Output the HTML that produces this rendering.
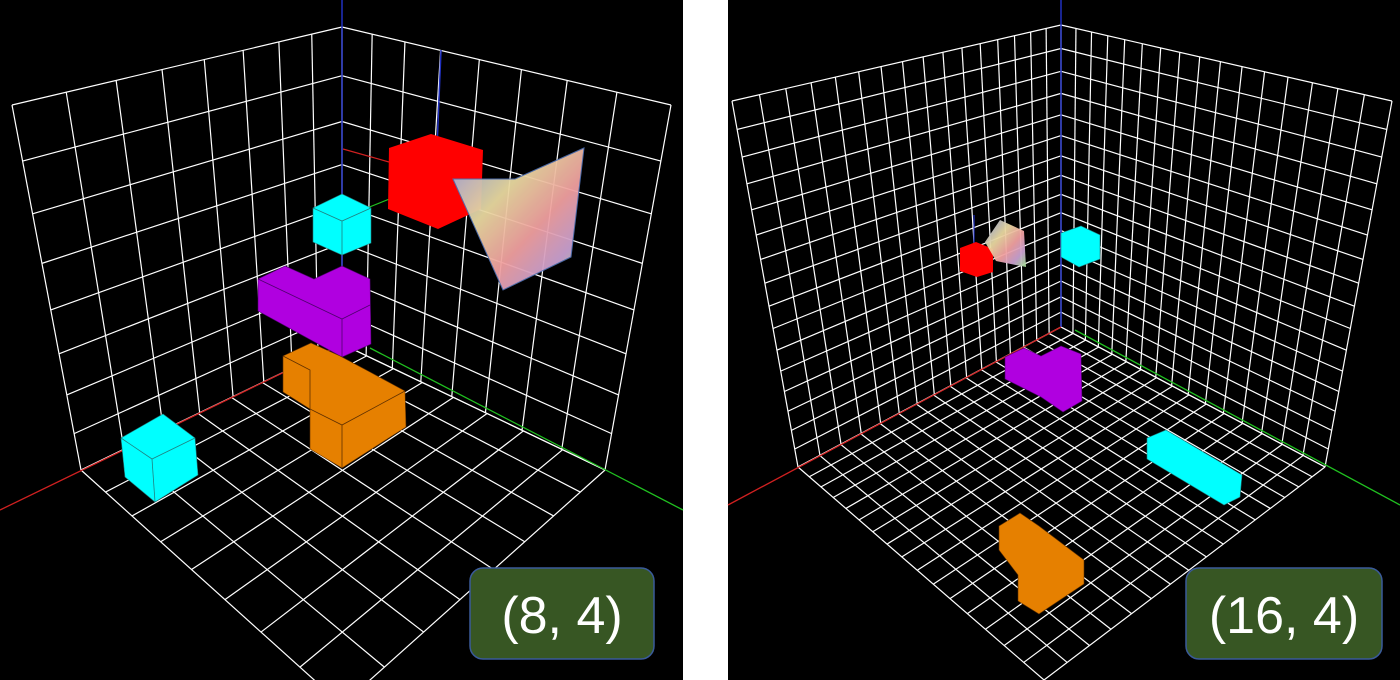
<!DOCTYPE html>
<html><head><meta charset="utf-8"><style>
html,body{margin:0;padding:0;background:#fff;width:1400px;height:680px;overflow:hidden}
svg{display:block}
</style></head><body>
<svg id="s" width="1400" height="680" xmlns="http://www.w3.org/2000/svg">
<defs>
<linearGradient id="pg" x1="0" y1="0" x2="1" y2="1">
<stop offset="0" stop-color="#8fa0e0"/><stop offset="0.35" stop-color="#e8d8a0"/><stop offset="0.6" stop-color="#f0a0a0"/><stop offset="0.8" stop-color="#c8a0d0"/><stop offset="1" stop-color="#a0e090"/>
</linearGradient>
</defs>
<rect x="0" y="0" width="683" height="680" fill="#000"/>
<rect x="728" y="0" width="672" height="680" fill="#000"/>
<g id="gl"></g>
<g id="gr"></g>
<g>
<line x1="342" y1="0" x2="342" y2="344" stroke="#2030c0" stroke-width="1.5"/>
<line x1="0" y1="510" x2="342" y2="344" stroke="#d02020" stroke-width="1.3"/>
<line x1="683" y1="510" x2="370" y2="348" stroke="#20c020" stroke-width="1.3"/>
<line x1="441" y1="50" x2="437" y2="148" stroke="#2030c0" stroke-width="1.5"/>
<line x1="343" y1="149" x2="389" y2="162" stroke="#d02020" stroke-width="1.2"/>
<line x1="342" y1="218" x2="412" y2="190" stroke="#20c020" stroke-width="1.2"/>
</g>
<g>
<line x1="1061" y1="0" x2="1061" y2="327" stroke="#2030c0" stroke-width="1.5"/>
<line x1="728" y1="505" x2="1061" y2="327" stroke="#d02020" stroke-width="1.3"/>
<line x1="1400" y1="505" x2="1075" y2="330" stroke="#20c020" stroke-width="1.3"/>
<line x1="974" y1="215" x2="974" y2="248" stroke="#2030c0" stroke-width="1.2"/>
</g>
<g>
<polygon points="389,148 431,134 483,150 481,209 438,229 388,209" fill="#ff0000"/>
<polygon points="453,179 515,179 584,148 571,257 503,290" fill="url(#pg)" stroke="#5070b0" stroke-width="1" opacity="0.95"/>
<polygon points="313,208 342,194 371,208 371,243 342,255 313,242" fill="#00ffff" stroke="#208080" stroke-width="0.6"/>
<polyline points="313,208 342,221 371,208 M342,221" fill="none" stroke="#208080" stroke-width="0.8"/>
<line x1="342" y1="221" x2="342" y2="255" stroke="#208080" stroke-width="0.8"/>
<polygon points="258,279 285,266 314,279 342,266 370,279 371,344 342,357 258,311" fill="#b000e0" stroke="#500070" stroke-width="0.6"/>
<polyline points="258,279 342,319 370,305" fill="none" stroke="#500070" stroke-width="0.8"/>
<line x1="342" y1="319" x2="342" y2="357" stroke="#500070" stroke-width="0.8"/>
<polygon points="283,356 311,343 340,356 370,372 405,391 406,427 342,468 310,449 310,409 283,392" fill="#e68000" stroke="#603000" stroke-width="0.6"/>
<polyline points="283,356 310,370 310,409 342,425 405,391" fill="none" stroke="#603000" stroke-width="0.8"/>
<line x1="342" y1="425" x2="342" y2="468" stroke="#603000" stroke-width="0.8"/>
<polygon points="121,438 163,414 195,438 198,475 155,502 125,477" fill="#00ffff" stroke="#208080" stroke-width="0.6"/>
<polyline points="121,438 152,459 195,438" fill="none" stroke="#208080" stroke-width="0.8"/>
<line x1="152" y1="459" x2="155" y2="502" stroke="#208080" stroke-width="0.8"/>
</g>
<g>
<polygon points="960,248 976,242 993,249 993,272 977,277 960,271" fill="#ff0000"/>
<polygon points="985,242 1000,220 1024,231 1026,267 996,261" fill="url(#pg)" opacity="0.95"/>
<polygon points="1061,233 1081,226 1100,235 1100,259 1079,267 1061,257" fill="#00ffff" stroke="#208080" stroke-width="0.6"/>
<polygon points="1005,357 1024,348 1041,356 1061,346 1081,354 1082,401 1063,412 1041,397 1005,379" fill="#b000e0" stroke="#500070" stroke-width="0.6"/>
<polygon points="1147,438 1166,430 1242,475 1240,497 1224,505 1147,459" fill="#00ffff" stroke="#208080" stroke-width="0.6"/>
<polygon points="999,526 1020,513 1039,526 1084,560 1084,584 1039,614 1018,601 1018,575 999,550" fill="#e68000" stroke="#603000" stroke-width="0.6"/>
</g>
<g>
<rect x="470" y="568" width="184" height="91" rx="13" fill="#375623" stroke="#3a5a9a" stroke-width="1.5"/>
<text x="562" y="633" text-anchor="middle" font-family="Liberation Sans, sans-serif" font-size="52" fill="#fff">(8, 4)</text>
</g>
<g>
<rect x="1186" y="568" width="196" height="91" rx="13" fill="#375623" stroke="#3a5a9a" stroke-width="1.5"/>
<text x="1284" y="633" text-anchor="middle" font-family="Liberation Sans, sans-serif" font-size="52" fill="#fff">(16, 4)</text>
</g>
</svg>
<script>
const gridCounts = [8, 16];
const leftLeftWall = [[12,105],[342,27],[342,344],[81,470]];
const leftRightWall = [[342,27],[671,105],[605,470],[342,344]];
const leftFloor = [[342,344],[605,470],[342,705],[81,470]];
const rightLeftWall = [[732,101],[1061,25],[1061,327],[798,467]];
const rightRightWall = [[1061,25],[1392,101],[1325,467],[1061,327]];
const rightFloor = [[1061,327],[1325,467],[1044,680],[798,467]];
function warp(t,r,n){ if(Math.abs(r-1)<1e-9) return t; return (1-Math.pow(r,t*n))/(1-Math.pow(r,n)); }
function B(q,u,v){
  const [p0,p1,p2,p3]=q;
  return [(1-u)*(1-v)*p0[0]+u*(1-v)*p1[0]+u*v*p2[0]+(1-u)*v*p3[0],
          (1-u)*(1-v)*p0[1]+u*(1-v)*p1[1]+u*v*p2[1]+(1-u)*v*p3[1]];
}
function drawGrid(gid,q,n,ru,rv){
  const g=document.getElementById(gid);
  for(let i=0;i<=n;i++){
    const tu=warp(i/n,ru,n), tv=warp(i/n,rv,n);
    [[B(q,tu,0),B(q,tu,1)],[B(q,0,tv),B(q,1,tv)]].forEach(([A,C])=>{
      const l=document.createElementNS('http://www.w3.org/2000/svg','line');
      l.setAttribute('x1',A[0]);l.setAttribute('y1',A[1]);
      l.setAttribute('x2',C[0]);l.setAttribute('y2',C[1]);
      l.setAttribute('stroke','#fff');l.setAttribute('stroke-width','1.2');
      
      
      g.appendChild(l);
    });
  }
}
drawGrid('gl',leftLeftWall,gridCounts[0],0.92,0.94);
drawGrid('gl',leftRightWall,gridCounts[0],1/0.92,0.94);
drawGrid('gl',leftFloor,gridCounts[0],1.08,1.08);
drawGrid('gr',rightLeftWall,gridCounts[1],0.96,0.97);
drawGrid('gr',rightRightWall,gridCounts[1],1/0.96,0.97);
drawGrid('gr',rightFloor,gridCounts[1],1.04,1.04);
</script>
</body></html>
